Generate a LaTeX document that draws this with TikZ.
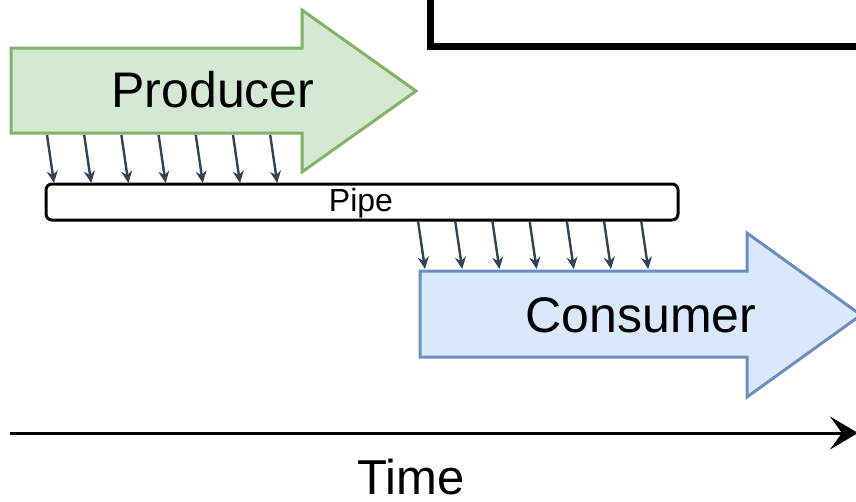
\documentclass[tikz,border=0pt]{standalone}
\usepackage{fontspec}
\setmainfont{Liberation Sans}
\usetikzlibrary{arrows.meta}
\definecolor{prodfill}{HTML}{D5E8D4}
\definecolor{prodline}{HTML}{82B366}
\definecolor{consfill}{HTML}{DAE8FC}
\definecolor{consline}{HTML}{6C8EBF}
\definecolor{flow}{HTML}{314354}
\tikzset{
  phase/.style={line width=3pt, line join=miter},
  bigtext/.style={font=\fontsize{50}{56}\selectfont, inner sep=0pt, anchor=base},
  item/.style={draw=flow, line width=2.4pt, -{Stealth[length=12pt,width=11pt,inset=4pt]}},
  pipebox/.style={draw=black, line width=3pt, rounded corners=6pt, fill=white,
    minimum width=632pt, minimum height=36pt, inner sep=0pt},
}
\begin{document}
\begin{tikzpicture}[x=1pt, y=-1pt]
\useasboundingbox (0,0) rectangle (856,501);
\clip (0,0) rectangle (856,501);

% window frame in the corner
\draw[line width=7pt] (430,-20) -- (430,46) -- (880,46);

% producer phase
\draw[phase, draw=prodline, fill=prodfill]
  (11,48) -- (302,48) -- (302,10) -- (416,91) -- (302,172) -- (302,133) -- (11,133) -- cycle;
\node[bigtext] (producer) at (213,107) {Producer};

% consumer phase
\draw[phase, draw=consline, fill=consfill]
  (420,271) -- (747,271) -- (747,233) -- (861,315) -- (747,397) -- (747,357) -- (420,357) -- cycle;
\node[bigtext] (consumer) at (641,332) {Consumer};

% shared pipe
\node[pipebox] (pipe) at (362,202) {};
\node[font=\fontsize{32}{36}\selectfont, inner sep=0pt, anchor=base] (pipelabel) at (361,211) {Pipe};

% items written into the pipe
\foreach \i in {0,...,6} {
  \coordinate (w\i) at (47+37.2*\i,135);
  \coordinate (p\i) at (54+37.2*\i,183);
  \draw[item] (w\i) -- (p\i);
}
% items read from the pipe
\foreach \i in {0,...,6} {
  \coordinate (r\i) at (418+37.2*\i,221);
  \coordinate (c\i) at (425+37.2*\i,269);
  \draw[item] (r\i) -- (c\i);
}

% time axis
\coordinate (t0) at (10,433);
\coordinate (t1) at (858,433);
\draw[line width=3pt, -{Stealth[length=28pt,width=33pt,inset=12pt]}] (t0) -- (t1);
\node[bigtext, font=\fontsize{49}{55}\selectfont] (time) at (411,494) {Time};
\end{tikzpicture}
\end{document}
